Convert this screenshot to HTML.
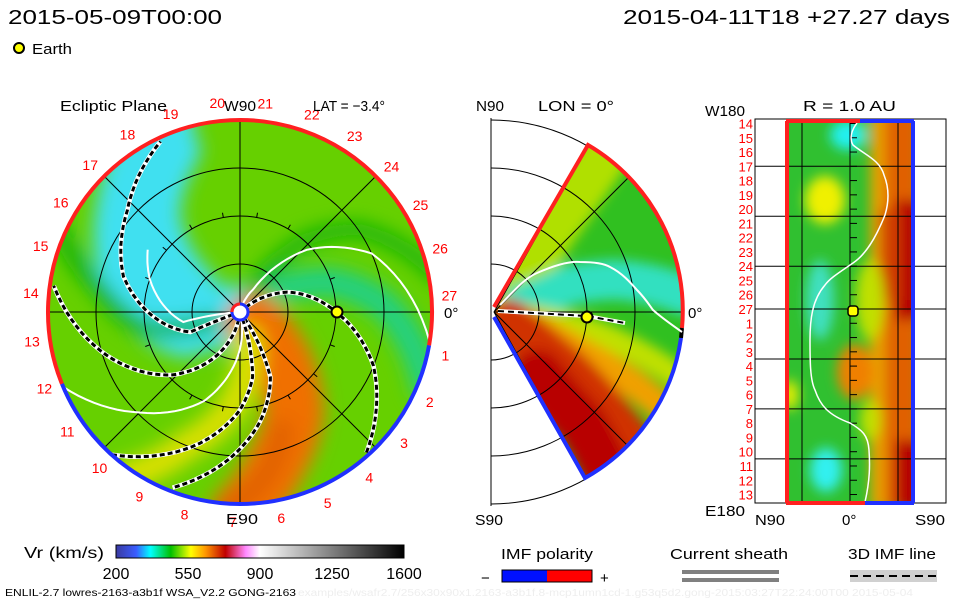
<!DOCTYPE html>
<html><head><meta charset="utf-8"><style>
body{margin:0;background:#fff;width:960px;height:600px;overflow:hidden}
svg{display:block;font-family:"Liberation Sans","DejaVu Sans",sans-serif}
</style></head><body>
<svg id="s" width="960" height="600" viewBox="0 0 960 600">
<defs>
<filter id="bl" x="-20%" y="-20%" width="140%" height="140%"><feGaussianBlur stdDeviation="9"/></filter>
<filter id="bl2" x="-30%" y="-30%" width="160%" height="160%"><feGaussianBlur stdDeviation="6"/></filter>
<clipPath id="cL"><circle cx="240" cy="312" r="192"/></clipPath>
<clipPath id="cM"><path d="M494,312 L588,145 A192,192 0 0 1 585,478 Z"/></clipPath>
<clipPath id="cR"><rect x="785" y="121" width="130" height="382"/></clipPath>
<linearGradient id="cb" x1="0" x2="1">
<stop offset="0" stop-color="#3a3aa0"/><stop offset=".07" stop-color="#3a5cff"/><stop offset=".12" stop-color="#00ffff"/><stop offset=".19" stop-color="#00c000"/><stop offset=".26" stop-color="#ffff00"/><stop offset=".31" stop-color="#ff9900"/><stop offset=".38" stop-color="#c00000"/><stop offset=".45" stop-color="#ff88ff"/><stop offset=".5" stop-color="#ffffff"/><stop offset="1" stop-color="#000000"/>
</linearGradient>
</defs>
<text x="8" y="24" font-size="20" textLength="214" lengthAdjust="spacingAndGlyphs">2015-05-09T00:00</text>
<text x="623" y="24" font-size="20" textLength="327" lengthAdjust="spacingAndGlyphs">2015-04-11T18 +27.27 days</text>
<circle cx="19" cy="48" r="5" fill="#ffff00" stroke="#000" stroke-width="2"/>
<text x="32" y="54" font-size="15" textLength="40" lengthAdjust="spacingAndGlyphs">Earth</text>

<g>
<g clip-path="url(#cL)">
<rect x="40" y="110" width="400" height="410" fill="#66d000"/>
<g id="leftBands" filter="url(#bl)"></g>
</g>
<g id="leftGrid" stroke="#000" stroke-width="1" fill="none"></g>
<g id="leftSpirals"></g>
<g id="leftRim" fill="none"></g>
<circle cx="240" cy="312" r="8" fill="#fff" stroke="#2030ff" stroke-width="3"/>
<path d="M232,312 A8,8 0 0 1 240,304" fill="none" stroke="#ff2020" stroke-width="3"/>
<circle cx="337" cy="312" r="5.5" fill="#ffff00" stroke="#000" stroke-width="2"/>
<g id="dayLabels" font-size="14" fill="#ff0000"></g>
<text x="60" y="111" font-size="15" textLength="107" lengthAdjust="spacingAndGlyphs">Ecliptic Plane</text>
<text x="224" y="111" font-size="15" textLength="32" lengthAdjust="spacingAndGlyphs">W90</text>
<text x="313" y="111" font-size="15" textLength="72" lengthAdjust="spacingAndGlyphs">LAT = −3.4°</text>
<text x="226" y="524" font-size="15" textLength="32" lengthAdjust="spacingAndGlyphs">E90</text>
<text x="444" y="318" font-size="15">0°</text>
</g>

<g>
<g clip-path="url(#cM)">
<rect x="490" y="140" width="200" height="350" fill="#30c020"/>
<g id="midBands" filter="url(#bl2)"></g>
</g>
<g id="midGrid" stroke="#000" stroke-width="1" fill="none"></g>
<g id="midRim" fill="none"></g>
<path d="M500,305 C515,290 525,278 537,273 C555,265 570,261 580,262 C595,262 605,264 610,267 C622,273 630,282 637,290 C645,298 650,306 653,310 C662,318 672,325 682,332" fill="none" stroke="#fff" stroke-width="2"/>
<path d="M498,311 L587,316 L625,323" fill="none" stroke="#fff" stroke-width="4"/>
<path d="M498,311 L587,316 L625,323" fill="none" stroke="#000" stroke-width="2" stroke-dasharray="6,4"/>
<circle cx="587" cy="317" r="5.5" fill="#ffff00" stroke="#000" stroke-width="2"/>
<text x="476" y="111" font-size="15" textLength="28" lengthAdjust="spacingAndGlyphs">N90</text>
<text x="538" y="111" font-size="15" textLength="76" lengthAdjust="spacingAndGlyphs">LON = 0°</text>
<text x="475" y="525" font-size="15" textLength="28" lengthAdjust="spacingAndGlyphs">S90</text>
<text x="688" y="318" font-size="15">0°</text>
</g>

<g>
<g clip-path="url(#cR)">
<rect x="785" y="121" width="130" height="382" fill="#30c030"/>
<g filter="url(#bl2)">
<rect x="870" y="110" width="50" height="400" fill="#e8a000"/>
<rect x="885" y="110" width="35" height="400" fill="#e06000"/>
<rect x="895" y="200" width="25" height="120" fill="#b80000"/>
<rect x="895" y="440" width="25" height="70" fill="#b80000"/>
<rect x="880" y="210" width="20" height="90" fill="#d04000"/>
<ellipse cx="825" cy="200" rx="20" ry="24" fill="#f0f000"/>
<ellipse cx="855" cy="372" rx="18" ry="28" fill="#f08000"/>
<ellipse cx="826" cy="470" rx="16" ry="22" fill="#30f0f0"/>
<ellipse cx="820" cy="300" rx="14" ry="40" fill="#40e0c0"/>
<ellipse cx="848" cy="135" rx="18" ry="15" fill="#20f0f0"/>
<ellipse cx="870" cy="300" rx="14" ry="40" fill="#c0e000"/>
<ellipse cx="790" cy="395" rx="8" ry="15" fill="#f0f000"/>
<ellipse cx="870" cy="420" rx="10" ry="20" fill="#c0e000"/>
</g>
</g>
<g id="rightGrid" stroke="#000" stroke-width="1"></g>
<path d="M857,123 C850,132 850,140 853,145 C865,155 880,160 884,175 C890,190 888,205 885,215 C875,240 865,255 853,263 C840,272 830,278 825,285 C812,300 810,320 810,340 C810,360 810,380 815,390 C820,405 828,415 850,423 C862,430 868,435 869,450 C870,465 870,480 865,502" fill="none" stroke="#fff" stroke-width="1.5"/>
<rect x="755" y="119" width="191" height="384" fill="none" stroke="#000"/>
<path d="M786,121 L860,121" stroke="#ff2020" stroke-width="4"/>
<path d="M860,121 L914,121" stroke="#2030ff" stroke-width="4"/>
<path d="M787,121 L787,503" stroke="#ff2020" stroke-width="4"/>
<path d="M913,121 L913,503" stroke="#2030ff" stroke-width="4"/>
<path d="M786,503 L865,503" stroke="#ff2020" stroke-width="4"/>
<path d="M865,503 L914,503" stroke="#2030ff" stroke-width="4"/>
<rect x="848" y="306" width="10" height="10" rx="3" fill="#ffff00" stroke="#000" stroke-width="1.5"/>
<g id="rightLabels" font-size="13" fill="#ff0000"></g>
<text x="803" y="111" font-size="15" textLength="93" lengthAdjust="spacingAndGlyphs">R = 1.0 AU</text>
<text x="705" y="116" font-size="15" textLength="40" lengthAdjust="spacingAndGlyphs">W180</text>
<text x="705" y="516" font-size="15" textLength="40" lengthAdjust="spacingAndGlyphs">E180</text>
<text x="755" y="525" font-size="15" textLength="30" lengthAdjust="spacingAndGlyphs">N90</text>
<text x="842" y="525" font-size="15">0°</text>
<text x="915" y="525" font-size="15" textLength="30" lengthAdjust="spacingAndGlyphs">S90</text>
</g>

<g>
<text x="24" y="558" font-size="16" textLength="80" lengthAdjust="spacingAndGlyphs">Vr (km/s)</text>
<rect x="116" y="545" width="288" height="13" fill="url(#cb)" stroke="#000"/>
<g id="cbTicks" font-size="16" text-anchor="middle"></g>
</g>
<text x="5" y="596" font-size="10" textLength="291" lengthAdjust="spacingAndGlyphs">ENLIL-2.7 lowres-2163-a3b1f WSA_V2.2 GONG-2163</text>
<text x="298" y="596" font-size="10" fill="#eee" textLength="615" lengthAdjust="spacingAndGlyphs">examples/wsafr2.7/256x30x90x1.2163-a3b1f.8-mcp1umn1cd-1.g53q5d2.gong-2015:03:27T22:24:00T00 2015-05-04</text>
<g>
<text x="501" y="559" font-size="15" textLength="92" lengthAdjust="spacingAndGlyphs">IMF polarity</text>
<text x="481" y="583" font-size="15">−</text>
<rect x="502" y="570" width="45" height="12" fill="#0010ff"/><rect x="547" y="570" width="45" height="12" fill="#ff0000"/>
<rect x="502" y="570" width="90" height="12" fill="none" stroke="#000"/>
<text x="600" y="583" font-size="15">+</text>
</g>
<g>
<text x="670" y="559" font-size="15" textLength="118" lengthAdjust="spacingAndGlyphs">Current sheath</text>
<rect x="682" y="570" width="97" height="4" fill="#808080"/><rect x="682" y="578" width="97" height="4" fill="#808080"/>
</g>
<g>
<text x="848" y="559" font-size="15" textLength="88" lengthAdjust="spacingAndGlyphs">3D IMF line</text>
<rect x="850" y="570" width="87" height="12" fill="#d0d0d0"/>
<line x1="850" y1="576" x2="937" y2="576" stroke="#000" stroke-width="2" stroke-dasharray="8,5"/>
</g>
</svg>
<script>
const NS="http://www.w3.org/2000/svg";
const cbTickVals=[200,550,900,1250,1600];
const daysTop=[14,15,16,17,18,19,20,21,22,23,24,25,26,27];
const daysBottom=[1,2,3,4,5,6,7,8,9,10,11,12,13];
const gridRadiiAU=[0.5,1.0,1.5];
// field lines: [radius AU, angle deg] waypoints
const imfLineA=[[0.08,40],[0.53,23],[1.0,0],[1.5,-22],[1.97,-48]];
const imfLineB=[[0.08,-55],[0.75,-65],[1.17,-80],[1.58,-96],[1.96,-111]];
const imfLineC=[[0.08,-70],[0.69,-79],[1.02,-90],[1.43,-107],[2.0,-132]];
const imfLineD=[[0.08,-100],[0.63,-123],[0.96,-137],[1.46,-162],[1.96,-188]];
const imfLineE=[[0.08,200],[0.56,202],[1.27,163],[1.58,138],[1.96,115]];
const sheathW1=[[0.1,70],[0.27,60],[0.95,43],[1.5,24],[2.0,-9]];
const sheathW2=[[0.1,-80],[0.69,-101],[1.0,-112],[1.48,-135],[2.0,-157]];
const sheathW3=[[0.1,185],[0.6,190],[1.0,160],[1.16,146]];
const rimPositiveDeg=[-10,202];
const cx=240,cy=312,R=192,AUPX=96;
function mk(t,a,p){const e=document.createElementNS(NS,t);for(const k in a)e.setAttribute(k,a[k]);p.appendChild(e);return e;}
function pt(r,a,ox,oy){const t=a*Math.PI/180;return [ox+r*AUPX*Math.cos(t),oy-r*AUPX*Math.sin(t)];}
function polarPath(pts,ox,oy){let d='';for(let i=0;i<pts.length-1;i++){const [r0,a0]=pts[i],[r1,a1]=pts[i+1];for(let k=0;k<=10;k++){if(i>0&&k==0)continue;const f=k/10;const p=pt(r0+(r1-r0)*f,a0+(a1-a0)*f,ox,oy);d+=(d?'L':'M')+p[0].toFixed(1)+','+p[1].toFixed(1);}}return d;}
// bands (decorative)
const lb=document.getElementById('leftBands');
[[[[0.1,195],[0.6,195],[1.2,162],[1.6,138],[2.1,112]],60,'#40e0f0'],
 [[[0.5,150],[1.3,130],[1.8,110]],40,'#40e0f0'],
 [[[0.2,35],[1,18],[1.5,3],[2.1,-22]],30,'#20d080'],
 [[[0.3,60],[1,48],[1.5,35],[2.1,10]],14,'#10b010'],
 [[[0.3,-160],[1,-170],[1.5,-190],[2.1,-205]],16,'#10b010'],
 [[[0.2,-40],[0.7,-50],[1.2,-62],[1.6,-76],[2.1,-90]],60,'#f07000'],
 [[[0.3,-75],[1,-95],[1.5,-112],[2.1,-125]],30,'#d8e000'],
 [[[1.3,-70],[1.7,-80],[2.1,-95]],20,'#e06000']].forEach(b=>{mk('path',{d:polarPath(b[0],cx,cy),fill:'none',stroke:b[2],'stroke-width':b[1],'stroke-linecap':'round'},lb);});
const lg=document.getElementById('leftGrid');
gridRadiiAU.forEach(a=>{const c=mk('circle',{cx:cx,cy:cy,r:a*AUPX},lg);

});
[0,45,90,135].forEach(d=>{const t=d*Math.PI/180;const l=mk('line',{x1:cx-R*Math.cos(t),y1:cy-R*Math.sin(t),x2:cx+R*Math.cos(t),y2:cy+R*Math.sin(t)},lg);

});
for(let a=20;a<=340;a+=20){const p1=pt(1,a,cx,cy),p2=pt(1.05,a,cx,cy);mk('line',{x1:p1[0],y1:p1[1],x2:p2[0],y2:p2[1]},lg);}
const sp=document.getElementById('leftSpirals');
[sheathW1,sheathW2,sheathW3].forEach(s=>{const p=mk('path',{d:polarPath(s,cx,cy),fill:'none',stroke:'#fff','stroke-width':2},sp);

});
[imfLineA,imfLineB,imfLineC,imfLineD,imfLineE].forEach(s=>{const d=polarPath(s,cx,cy);
const w=mk('path',{d:d,fill:'none',stroke:'#fff','stroke-width':4.5},sp);


const b=mk('path',{d:d,fill:'none',stroke:'#000','stroke-width':3,'stroke-dasharray':'5,3'},sp);

});
// rim
const rim=document.getElementById('leftRim');
function arc(a0,a1,col,name){const p0=pt(2,a0,cx,cy),p1=pt(2,a1,cx,cy);const large=(a1-a0)>180?1:0;
const e=mk('path',{d:`M${p0[0]},${p0[1]} A192,192 0 ${large} 0 ${p1[0]},${p1[1]}`,stroke:col,'stroke-width':4},rim);

}
arc(rimPositiveDeg[0],rimPositiveDeg[1],'#ff2020','polarity-rim-positive');
arc(rimPositiveDeg[1],rimPositiveDeg[0]+360,'#2030ff','polarity-rim-negative');
// day labels
const dl=document.getElementById('dayLabels');
function dayLabel(dv,deg){const t=deg*Math.PI/180;const x=cx+210*Math.cos(t),y=cy-210*Math.sin(t)+5;const e=mk('text',{x:x,y:y,'text-anchor':'middle'},dl);e.textContent=dv;

}
daysTop.forEach(dv=>dayLabel(dv,4.5+(27-dv)*13.1));
daysBottom.forEach(dv=>dayLabel(dv,-12-(dv-1)*13.33));
// middle
const mx=491,mcx=494;
const mb=document.getElementById('midBands');
[[[[0.2,50],[1,55],[2,55]],50,'#b0e000'],
 [[[0.3,15],[0.8,20],[1.3,15],[2,5]],40,'#30e0c0'],
 [[[0.2,-8],[0.9,-10],[1.5,-15],[2.1,-20]],25,'#c0e000'],
 [[[0.2,-20],[1,-25],[1.6,-27],[2.1,-30]],30,'#f0a000'],
 [[[0.2,-40],[1,-40],[2.1,-45]],50,'#d03000'],
 [[[0.8,-55],[1.5,-52],[2.1,-55]],50,'#b80000']].forEach(b=>{mk('path',{d:polarPath(b[0],mcx,cy),fill:'none',stroke:b[2],'stroke-width':b[1],'stroke-linecap':'round'},mb);});
const mg=document.getElementById('midGrid');
mk('line',{x1:mx,y1:118,x2:mx,y2:506},mg);
mk('path',{d:`M${mx},120 A192,192 0 0 1 ${mx},504`},mg);
gridRadiiAU.forEach(a=>{const r=a*AUPX;const e=mk('path',{d:`M${mx},${cy-r} A${r},${r} 0 0 1 ${mx},${cy+r}`},mg);

});
[45,0,-45].forEach(d=>{const t=d*Math.PI/180;mk('line',{x1:mcx,y1:cy,x2:mcx+190*Math.cos(t),y2:cy-190*Math.sin(t)},mg);});
mk('line',{x1:mcx,y1:cy,x2:588,y2:145},mg);mk('line',{x1:mcx,y1:cy,x2:585,y2:478},mg);
const mr=document.getElementById('midRim');
mk('path',{d:'M494,307 L588,145 A192,192 0 0 1 682,328',stroke:'#ff2020','stroke-width':4},mr);
mk('path',{d:'M682,328 L681,338',stroke:'#000','stroke-width':4},mr);
mk('path',{d:'M494,317 L585,478 A192,192 0 0 0 681,338',stroke:'#2030ff','stroke-width':4},mr);
// right grid
const rg=document.getElementById('rightGrid');
[802,850,898].forEach(x=>mk('line',{x1:x,y1:121,x2:x,y2:503},rg));
const rowY=i=>123.5+i*14.27;
[3,6.5,10,13,16.5,20,23.5].forEach(i=>{const y=rowY(i);mk('line',{x1:755,y1:y,x2:946,y2:y},rg);});
const rl=document.getElementById('rightLabels');
daysTop.concat(daysBottom).forEach((dv,i)=>{const e=mk('text',{x:753,y:rowY(i)+5,'text-anchor':'end'},rl);e.textContent=dv;


mk('line',{x1:850,y1:rowY(i),x2:857,y2:rowY(i),stroke:'#000'},rg);});
// colorbar ticks
const cbt=document.getElementById('cbTicks');
cbTickVals.forEach(v=>{const x=116+(v-200)/1400*288;const e=mk('text',{x:x,y:579},cbt);e.textContent=v;

});
</script>
</body></html>
